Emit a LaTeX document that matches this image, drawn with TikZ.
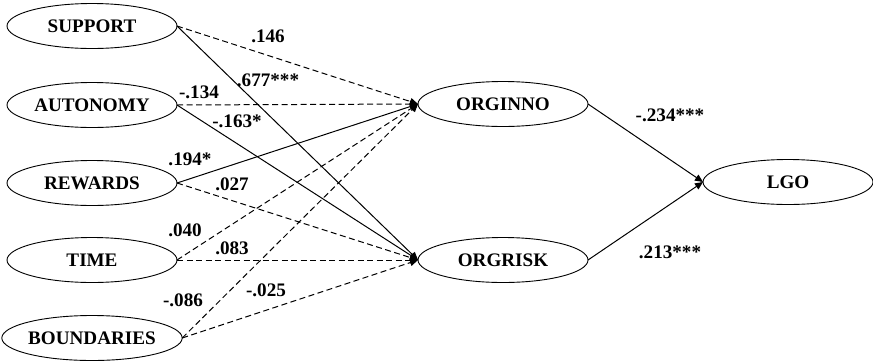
\documentclass[tikz,border=0pt]{standalone}
\usepackage{fontspec}
\setmainfont{Liberation Serif}
\usetikzlibrary{shapes.geometric,arrows.meta}
\begin{document}
\begin{tikzpicture}[x=1bp,y=-1bp,
  construct/.style={ellipse,draw,line width=0.9bp,minimum width=170bp,minimum height=45bp,
    inner sep=0pt,outer sep=0pt,font=\fontsize{19.2}{20}\selectfont\bfseries},
  path/.style={line width=1bp,-{Triangle[length=8bp,width=7bp]}},
  nspath/.style={path,dash pattern=on 6bp off 3.5bp},
  coef/.style={font=\fontsize{19.2}{20}\selectfont\bfseries,inner sep=0pt}]
\useasboundingbox (0,0) rectangle (873,361);
% antecedents
\node[construct] (sup) at (92,26)  {SUPPORT};
\node[construct] (aut) at (92,105) {AUTONOMY};
\node[construct] (rew) at (92,183) {REWARDS};
\node[construct] (tim) at (92,260) {TIME};
\node[construct] (bou) at (92,338) {BOUNDARIES};
% mediators and outcome
\node[construct] (inno) at (503,104) {ORGINNO};
\node[construct] (risk) at (503,260) {ORGRISK};
\node[construct] (lgo)  at (788,182) {LGO};
% paths
\draw[nspath] (sup.east) -- (inno.west);
\draw[path]   (sup.east) -- (risk.west);
\draw[nspath] (aut.east) -- (inno.west);
\draw[path]   (aut.east) -- (risk.west);
\draw[path]   (rew.east) -- (inno.west);
\draw[nspath] (rew.east) -- (risk.west);
\draw[nspath] (tim.east) -- (inno.west);
\draw[nspath] (tim.east) -- (risk.west);
\draw[nspath] (bou.east) -- (inno.west);
\draw[nspath] (bou.east) -- (risk.west);
\draw[path]   (inno.east) -- (lgo.west);
\draw[path]   (risk.east) -- (lgo.west);
% coefficients
\node[coef] (c1)  at (268,36)  {.146};
\node[coef] (c2)  at (268,80)  {.677***};
\node[coef] (c3)  at (199,92)  {-.134};
\node[coef] (c4)  at (237,121) {-.163*};
\node[coef] (c5)  at (190,159) {.194*};
\node[coef] (c6)  at (232,184) {.027};
\node[coef] (c7)  at (185,230) {.040};
\node[coef] (c8)  at (232,248) {.083};
\node[coef] (c9)  at (183,300) {-.086};
\node[coef] (c10) at (266,290) {-.025};
\node[coef] (c11) at (670,115) {-.234***};
\node[coef] (c12) at (670,252) {.213***};
\end{tikzpicture}
\end{document}
